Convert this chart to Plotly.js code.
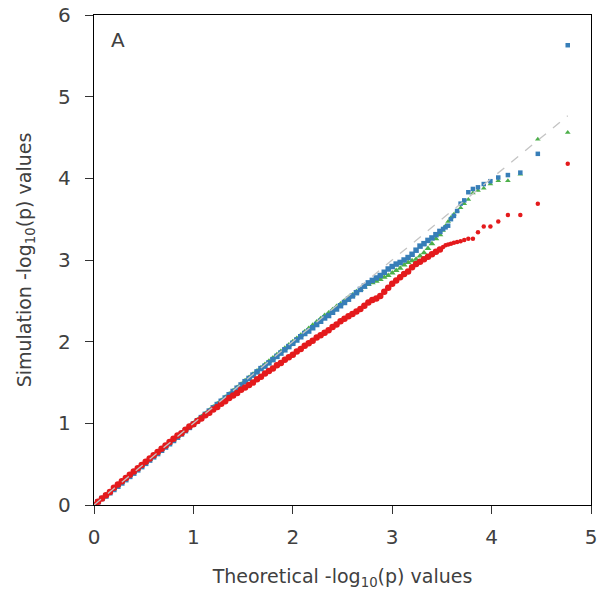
<!DOCTYPE html>
<html>
<head>
<meta charset="utf-8">
<script src="https://cdn.plot.ly/plotly-3.0.1.min.js"></script>
<style>html,body{margin:0;padding:0;background:#fff;}#chart{width:602px;height:594px;}</style>
</head>
<body>
<div id="chart"></div>
<script>
// Theoretical quantiles (bulk of the distribution)
const bulkX = [
  0.00,0.04,0.08,0.12,0.16,0.20,0.24,0.28,0.32,0.36,
  0.40,0.44,0.48,0.52,0.56,0.60,0.64,0.68,0.72,0.76,
  0.80,0.84,0.88,0.92,0.96,1.00,1.04,1.08,1.12,1.16,
  1.20,1.24,1.28,1.32,1.36,1.40,1.44,1.48,1.52,1.56,
  1.60,1.64,1.68,1.72,1.76,1.80,1.84,1.88,1.92,1.96,
  2.00,2.04,2.08,2.12,2.16,2.20,2.24,2.28,2.32,2.36,
  2.40,2.44,2.48,2.52,2.56,2.60,2.64,2.68,2.72,2.76,
  2.80,2.84,2.88,2.92,2.96,3.00,3.04,3.08,3.12,3.16,
  3.20,3.24,3.28,3.32,3.36,3.40,3.44,3.48
];
const blueBulk = [
  0.00,0.04,0.08,0.11,0.15,0.19,0.23,0.27,0.31,0.35,
  0.39,0.43,0.47,0.51,0.55,0.59,0.63,0.67,0.71,0.75,
  0.79,0.83,0.87,0.91,0.95,0.99,1.03,1.07,1.11,1.15,
  1.19,1.23,1.27,1.31,1.35,1.39,1.43,1.47,1.51,1.55,
  1.59,1.63,1.67,1.70,1.74,1.78,1.82,1.86,1.90,1.94,
  1.98,2.02,2.06,2.10,2.13,2.17,2.21,2.25,2.29,2.32,
  2.36,2.40,2.44,2.48,2.52,2.56,2.60,2.64,2.68,2.72,
  2.75,2.78,2.81,2.85,2.89,2.92,2.95,2.97,3.00,3.03,
  3.07,3.12,3.17,3.20,3.24,3.27,3.31,3.35
];
const greenBulk = [
  0.00,0.04,0.08,0.12,0.16,0.20,0.24,0.28,0.32,0.36,
  0.40,0.44,0.48,0.52,0.56,0.60,0.64,0.68,0.72,0.76,
  0.80,0.84,0.88,0.92,0.96,1.00,1.04,1.08,1.12,1.16,
  1.20,1.24,1.28,1.32,1.36,1.40,1.44,1.48,1.52,1.56,
  1.60,1.64,1.68,1.72,1.76,1.80,1.84,1.88,1.92,1.96,
  2.00,2.04,2.08,2.12,2.16,2.20,2.24,2.28,2.32,2.35,
  2.39,2.43,2.46,2.50,2.54,2.57,2.61,2.64,2.67,2.70,
  2.72,2.74,2.76,2.79,2.81,2.84,2.87,2.90,2.94,2.97,
  2.99,3.01,3.05,3.09,3.14,3.20,3.26,3.31
];
const redBulk = [
  0.00,0.04,0.08,0.12,0.16,0.21,0.25,0.29,0.33,0.37,
  0.41,0.45,0.49,0.53,0.57,0.61,0.65,0.69,0.73,0.77,
  0.81,0.85,0.88,0.92,0.96,0.99,1.03,1.06,1.10,1.13,
  1.17,1.20,1.24,1.27,1.31,1.34,1.37,1.41,1.44,1.47,
  1.50,1.54,1.57,1.61,1.64,1.67,1.71,1.74,1.78,1.81,
  1.84,1.88,1.91,1.95,1.98,2.01,2.05,2.08,2.11,2.14,
  2.18,2.21,2.25,2.28,2.31,2.34,2.37,2.40,2.44,2.48,
  2.51,2.53,2.56,2.61,2.66,2.71,2.75,2.79,2.83,2.86,
  2.91,2.95,2.98,3.01,3.04,3.07,3.10,3.13
];
// Theoretical quantiles (upper tail, individual points)
const tailX = [3.512,3.537,3.563,3.591,3.621,3.653,3.688,3.725,3.766,3.812,3.863,3.921,3.988,4.067,4.164,4.289,4.465,4.766];
const blueTail  = [3.38,3.40,3.42,3.50,3.54,3.60,3.69,3.73,3.83,3.87,3.89,3.93,3.965,4.01,4.04,4.07,4.30,5.63];
const greenTail = [3.36,3.42,3.47,3.52,3.56,3.60,3.64,3.69,3.74,3.82,3.85,3.88,3.93,3.97,3.97,4.05,4.48,4.56];
const redTail   = [3.16,3.18,3.19,3.20,3.21,3.22,3.23,3.245,3.26,3.26,3.34,3.41,3.41,3.47,3.55,3.55,3.69,4.18];
// Expected line y = x
const refLine = [0, 4.766];

const BLUE = '#377eb8', GREEN = '#4daf4a', RED = '#e41a1c';
const TXT = '#404040';
const FONT = 'DejaVu Sans, sans-serif';
const traces = [
  {x: bulkX, y: greenBulk, mode: 'markers', type: 'scatter', marker: {symbol: 'triangle-up', size: 6, color: GREEN}},
  {x: tailX, y: greenTail, mode: 'markers', type: 'scatter', marker: {symbol: 'triangle-up', size: 5, color: GREEN}},
  {x: bulkX, y: blueBulk, mode: 'markers', type: 'scatter', marker: {symbol: 'square', size: 5.5, color: BLUE}},
  {x: tailX, y: blueTail, mode: 'markers', type: 'scatter', marker: {symbol: 'square', size: 4.5, color: BLUE}},
  {x: bulkX, y: redBulk, mode: 'markers', type: 'scatter', marker: {symbol: 'circle', size: 6.5, color: RED}},
  {x: tailX, y: redTail, mode: 'markers', type: 'scatter', marker: {symbol: 'circle', size: 4.5, color: RED}},
  {x: refLine, y: refLine, mode: 'lines', type: 'scatter', line: {color: '#c4c4c4', width: 1.3, dash: 'dash'}}
];

const axisCommon = {
  showgrid: false, zeroline: false, showline: true, mirror: true,
  linecolor: '#000', linewidth: 1.2,
  ticks: 'outside', ticklen: 8, tickwidth: 1, tickcolor: '#333',
  tickfont: {family: FONT, size: 20, color: TXT},
  fixedrange: true
};

const layout = {
  width: 602, height: 594,
  margin: {l: 94, r: 11, t: 15, b: 89},
  paper_bgcolor: '#fff', plot_bgcolor: '#fff',
  showlegend: false,
  font: {family: FONT, color: TXT},
  xaxis: Object.assign({}, axisCommon, {
    range: [0, 5], tickvals: [0,1,2,3,4,5], ticklabelstandoff: 6,
    title: {text: 'Theoretical -log<sub>10</sub>(p) values', font: {family: FONT, size: 19, color: TXT}, standoff: 21}
  }),
  yaxis: Object.assign({}, axisCommon, {
    range: [0, 6], tickvals: [0,1,2,3,4,5,6], ticklabelstandoff: 10,
    title: {text: 'Simulation -log<sub>10</sub>(p) values', font: {family: FONT, size: 19, color: TXT}, standoff: 21}
  }),
  annotations: [{
    text: 'A', xref: 'x', yref: 'y', x: 0.24, y: 5.7, showarrow: false,
    font: {family: FONT, size: 20, color: TXT}
  }]
};

Plotly.newPlot('chart', traces, layout, {displayModeBar: false, staticPlot: true});
</script>
</body>
</html>
